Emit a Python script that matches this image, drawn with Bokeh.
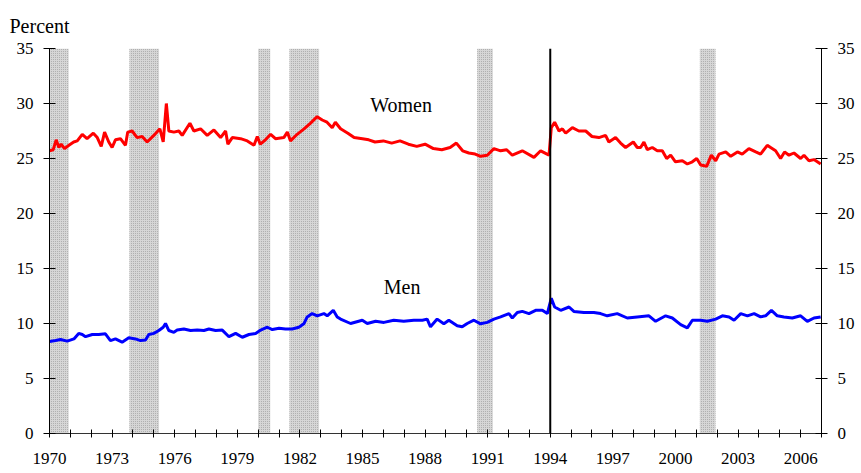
from bokeh.plotting import figure
from bokeh.models import LinearAxis, FixedTicker, Range1d, Span, Label, Title
from bokeh.embed import file_html
from bokeh.resources import INLINE

# Women part-time share (percent)
women_x = [1970.0, 1970.18, 1970.32, 1970.45, 1970.56, 1970.72, 1970.93, 1971.16, 1971.33, 1971.57,
           1971.8, 1972.1, 1972.29, 1972.48, 1972.64, 1972.84, 1973.0, 1973.16, 1973.4, 1973.64,
           1973.75, 1973.96, 1974.2, 1974.44, 1974.68, 1975.0, 1975.29, 1975.45, 1975.6, 1975.72,
           1975.96, 1976.2, 1976.36, 1976.73, 1976.92, 1977.24, 1977.56, 1977.88, 1978.2, 1978.44,
           1978.55, 1978.76, 1979.16, 1979.48, 1979.8, 1979.96, 1980.1, 1980.35, 1980.6, 1980.83,
           1981.23, 1981.4, 1981.55, 1981.87, 1982.2, 1982.5, 1982.83, 1983.07, 1983.3, 1983.55,
           1983.7, 1983.95, 1984.3, 1984.6, 1985.0, 1985.3, 1985.6, 1986.0, 1986.4, 1986.8,
           1987.2, 1987.6, 1988.0, 1988.4, 1988.8, 1989.2, 1989.5, 1989.8, 1990.1, 1990.4,
           1990.66, 1990.98, 1991.3, 1991.62, 1991.91, 1992.18, 1992.66, 1993.22, 1993.54, 1993.94,
           1994.05, 1994.21, 1994.42, 1994.58, 1994.74, 1995.06, 1995.37, 1995.7, 1996.0, 1996.33,
           1996.65, 1996.81, 1997.13, 1997.37, 1997.61, 1997.98, 1998.17, 1998.33, 1998.49, 1998.65,
           1998.89, 1999.13, 1999.37, 1999.58, 1999.77, 2000.0, 2000.33, 2000.57, 2000.81, 2001.02,
           2001.21, 2001.5, 2001.72, 2001.93, 2002.09, 2002.41, 2002.65, 2002.97, 2003.2, 2003.52,
           2003.85, 2004.08, 2004.4, 2004.56, 2004.8, 2005.04, 2005.23, 2005.44, 2005.68, 2006.0,
           2006.16, 2006.4, 2006.64, 2006.96]
women_y = [25.7, 25.8, 26.7, 26.0, 26.3, 25.9, 26.2, 26.5, 26.6, 27.2,
           26.8, 27.3, 26.9, 26.1, 27.4, 26.5, 26.0, 26.7, 26.8, 26.2,
           27.4, 27.5, 26.9, 27.0, 26.5, 27.1, 27.7, 26.5, 30.0, 27.5,
           27.4, 27.5, 27.1, 28.2, 27.5, 27.7, 27.1, 27.6, 26.9, 27.5,
           26.3, 26.9, 26.8, 26.6, 26.2, 27.0, 26.3, 26.7, 27.2, 26.8,
           26.9, 27.4, 26.6, 27.2, 27.7, 28.2, 28.8, 28.5, 28.3, 27.8,
           28.3, 27.7, 27.3, 26.9, 26.8, 26.7, 26.5, 26.6, 26.4, 26.6,
           26.3, 26.1, 26.3, 25.9, 25.8, 26.0, 26.4, 25.7, 25.5, 25.4,
           25.2, 25.3, 25.9, 25.7, 25.8, 25.3, 25.7, 25.1, 25.7, 25.3,
           27.8, 28.3, 27.5, 27.7, 27.3, 27.8, 27.5, 27.5, 27.0, 26.9,
           27.1, 26.5, 26.9, 26.4, 26.0, 26.5, 26.0, 26.0, 26.5, 25.8,
           26.0, 25.7, 25.7, 25.0, 25.3, 24.7, 24.8, 24.5, 24.7, 25.0,
           24.4, 24.3, 25.3, 24.8, 25.4, 25.6, 25.2, 25.6, 25.4, 25.9,
           25.6, 25.4, 26.2, 26.0, 25.7, 25.0, 25.6, 25.3, 25.5, 25.0,
           25.3, 24.8, 24.9, 24.5]

# Men part-time share (percent)
men_x = [1970.0, 1970.29, 1970.53, 1970.85, 1971.17, 1971.4, 1971.57, 1971.73, 1972.05, 1972.36,
         1972.68, 1972.92, 1973.16, 1973.48, 1973.8, 1974.12, 1974.36, 1974.6, 1974.76, 1975.0,
         1975.24, 1975.45, 1975.56, 1975.72, 1975.96, 1976.12, 1976.44, 1976.76, 1977.08, 1977.4,
         1977.64, 1977.96, 1978.28, 1978.6, 1978.92, 1979.24, 1979.56, 1979.88, 1980.12, 1980.44,
         1980.68, 1981.0, 1981.31, 1981.63, 1981.95, 1982.19, 1982.35, 1982.59, 1982.83, 1983.15,
         1983.31, 1983.6, 1983.79, 1983.95, 1984.43, 1984.99, 1985.23, 1985.63, 1986.03, 1986.5,
         1986.98, 1987.46, 1987.87, 1988.1, 1988.26, 1988.58, 1988.9, 1989.14, 1989.54, 1989.78,
         1990.02, 1990.34, 1990.66, 1990.98, 1991.3, 1991.62, 1992.02, 1992.18, 1992.42, 1992.66,
         1992.98, 1993.3, 1993.62, 1993.86, 1994.05, 1994.21, 1994.5, 1994.9, 1995.13, 1995.61,
         1996.09, 1996.41, 1996.73, 1997.21, 1997.69, 1998.17, 1998.73, 1999.05, 1999.53, 1999.85,
         2000.25, 2000.57, 2000.81, 2001.21, 2001.53, 2001.93, 2002.25, 2002.57, 2002.81, 2003.13,
         2003.45, 2003.77, 2004.08, 2004.32, 2004.6, 2004.88, 2005.2, 2005.6, 2006.0, 2006.32,
         2006.64, 2006.96]
men_y = [8.36, 8.45, 8.55, 8.4, 8.6, 9.1, 9.0, 8.8, 9.0, 9.0,
         9.06, 8.45, 8.6, 8.3, 8.7, 8.6, 8.45, 8.5, 9.0, 9.1,
         9.36, 9.66, 10.0, 9.36, 9.2, 9.4, 9.5, 9.36, 9.4, 9.36,
         9.5, 9.36, 9.4, 8.8, 9.1, 8.75, 9.0, 9.1, 9.4, 9.66,
         9.45, 9.57, 9.5, 9.5, 9.66, 9.97, 10.6, 10.9, 10.7, 10.9,
         10.7, 11.2, 10.6, 10.4, 10.0, 10.3, 10.0, 10.2, 10.1, 10.3,
         10.2, 10.3, 10.3, 10.4, 9.7, 10.4, 9.97, 10.3, 9.8, 9.7,
         10.0, 10.3, 9.97, 10.1, 10.4, 10.6, 10.9, 10.5, 11.0, 11.1,
         10.9, 11.2, 11.2, 10.9, 12.3, 11.5, 11.2, 11.5, 11.1, 11.0,
         11.0, 10.9, 10.7, 10.9, 10.5, 10.6, 10.7, 10.2, 10.7, 10.5,
         9.9, 9.6, 10.3, 10.3, 10.2, 10.4, 10.7, 10.6, 10.3, 10.9,
         10.7, 10.9, 10.6, 10.7, 11.2, 10.7, 10.6, 10.5, 10.7, 10.2,
         10.5, 10.6]

# NBER recessions (start, end) in fractional years
rec_start = [1969.92, 1973.83, 1980.0, 1981.5, 1990.5, 2001.17]
rec_end = [1970.92, 1975.25, 1980.58, 1982.92, 1991.25, 2001.92]

x_ticks = list(range(1970, 2008))
x_labeled = list(range(1970, 2007, 3))
y_ticks = [0, 5, 10, 15, 20, 25, 30, 35]
break_year = 1994

FONT = "Times New Roman"

p = figure(width=861, height=473, output_backend="svg", toolbar_location=None,
           x_range=Range1d(1970, 2007), y_range=Range1d(0, 35),
           min_border_left=49, min_border_right=40, min_border_top=48, min_border_bottom=40,
           y_axis_location=None, title=None)
p.outline_line_color = None
p.xgrid.visible = False
p.ygrid.visible = False
p.background_fill_color = "white"
p.border_fill_color = "white"

# recession shading
p.quad(left=rec_start, right=rec_end, bottom=0, top=35,
       fill_color="#d6d6d6", line_color=None,
       hatch_pattern="dot", hatch_color="#a4a4a4", hatch_scale=2, hatch_weight=1)

p.add_layout(Span(location=break_year, dimension="height", line_color="black", line_width=2))

p.line(women_x, women_y, line_color="#ff0000", line_width=3)
p.line(men_x, men_y, line_color="#0000ff", line_width=3)

# x axis
xa = p.xaxis[0]
xa.ticker = FixedTicker(ticks=x_ticks)
xa.major_label_overrides = {t: (str(t) if t in x_labeled else "") for t in x_ticks}
xa.minor_tick_line_color = None
xa.major_tick_in = 4
xa.major_tick_out = 4
xa.major_label_standoff = 15
xa.major_label_text_font = FONT
xa.major_label_text_font_style = "normal"
xa.major_label_text_font_size = "17px"
xa.major_label_text_color = "black"
xa.axis_line_color = "#333333"
xa.major_tick_line_color = "black"

for side in ("left", "right"):
    ax = LinearAxis(ticker=FixedTicker(ticks=y_ticks))
    ax.minor_tick_line_color = None
    ax.major_tick_in = 6
    ax.major_tick_out = 6
    ax.major_label_standoff = 10
    ax.major_label_text_font = FONT
    ax.major_label_text_font_style = "normal"
    ax.major_label_text_font_size = "17px"
    ax.major_label_text_color = "black"
    ax.axis_line_color = "black"
    p.add_layout(ax, side)

t = Title(text="Percent", align="left", offset=-40, standoff=24,
          text_font=FONT, text_font_size="20px", text_font_style="normal", text_color="black")
p.add_layout(t, "above")

p.add_layout(Label(x=1986.85, y=29.9, text="Women", text_font=FONT, text_font_size="20px",
                   text_align="center", text_baseline="middle", text_color="black"))
p.add_layout(Label(x=1986.9, y=13.3, text="Men", text_font=FONT, text_font_size="20px",
                   text_align="center", text_baseline="middle", text_color="black"))

open("out.html", "w").write(file_html(p, INLINE))
